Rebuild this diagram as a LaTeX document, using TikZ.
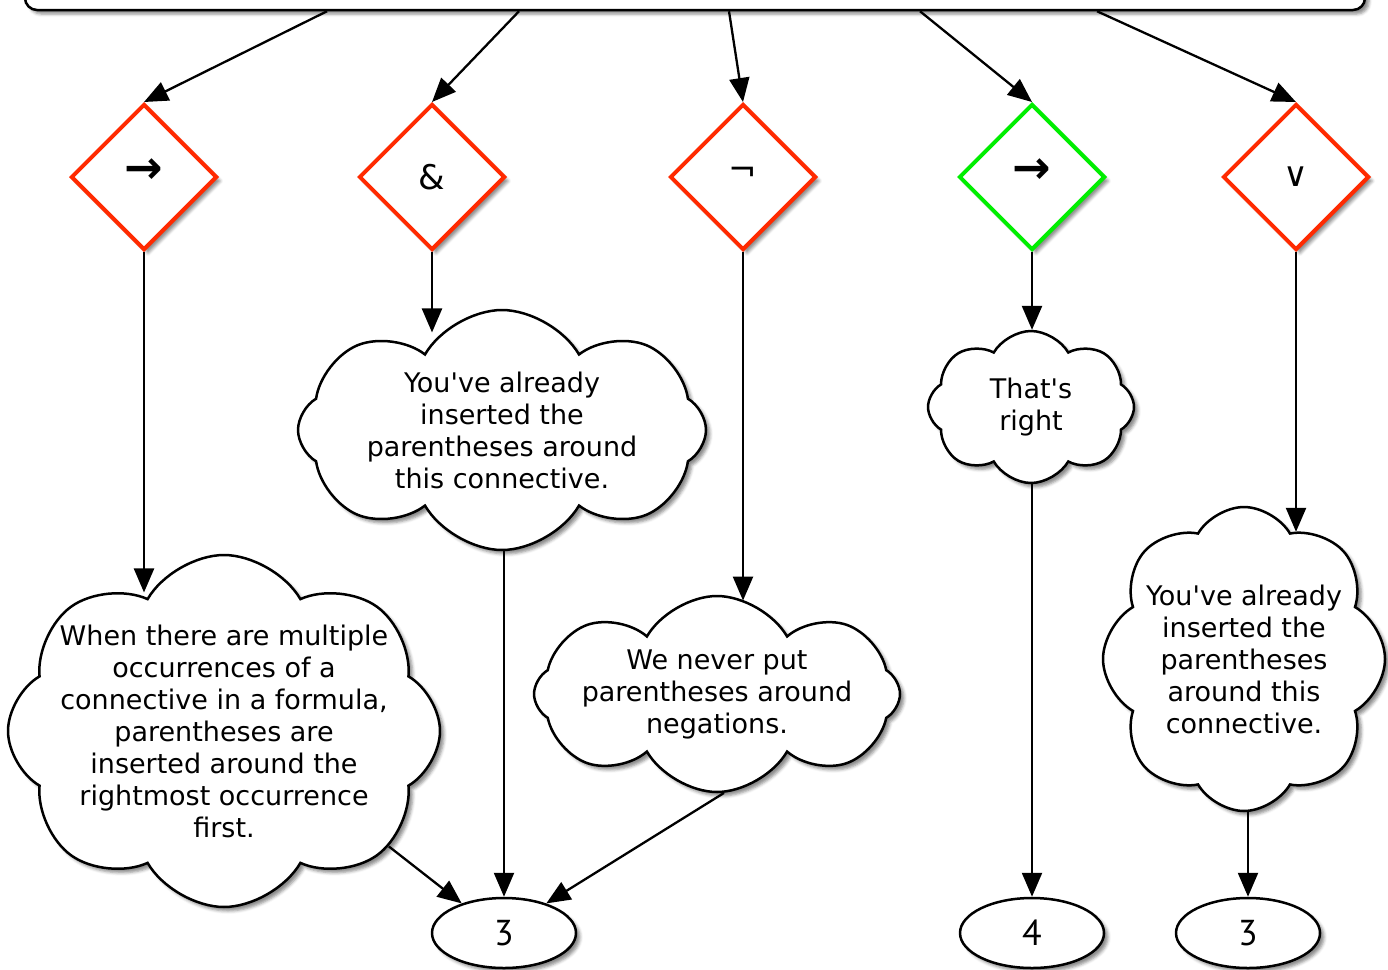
\documentclass[tikz,border=0pt]{standalone}
\usepackage{fontspec}
\setmainfont{DejaVu Sans}
\newfontfamily\numfont{PT Sans}
\usetikzlibrary{shapes.geometric,shapes.symbols,arrows.meta,shadows.blur}
\definecolor{dred}{RGB}{255,42,0}
\definecolor{dgreen}{RGB}{0,238,0}
\tikzset{
 shad/.style={blur shadow={shadow xshift=4pt,shadow yshift=-4pt,shadow opacity=45,shadow blur radius=3pt}},
 dia/.style={diamond, draw=dred, line width=4pt, fill=white, minimum width=146pt, minimum height=146pt, inner sep=0pt, shad, font=\fontsize{34}{34}\selectfont},
 okdia/.style={dia, draw=dgreen},
 arrsym/.style={font=\bfseries\fontsize{46}{46}\selectfont},
 thought/.style={cloud, draw, line width=2.5pt, fill=white, shad, cloud puffs=8, cloud puff arc=120, cloud ignores aspect, align=center, inner sep=-80pt, font=\fontsize{27}{32}\selectfont},
 goal/.style={ellipse, draw, line width=2.5pt, fill=white, shad, minimum width=144pt, minimum height=70pt, inner sep=0pt, font=\numfont\fontsize{36}{36}\selectfont},
 topbox/.style={rectangle, rounded corners=12pt, draw, line width=2.5pt, fill=white, shad, minimum width=1340pt, minimum height=80pt},
 arr/.style={-{Triangle[length=24pt,width=20pt]}, line width=2.3pt},
}
\begin{document}
\begin{tikzpicture}[x=1pt,y=-1pt]
\useasboundingbox (0,0) rectangle (1388,969);
\node[topbox] (top) at (695,-30) {};

\node[dia, arrsym] (d1) at (144,177) {\raisebox{12pt}{→}};
\node[dia] (d2) at (432,177) {\&};
\node[dia] (d3) at (743,177) {\raisebox{6pt}{¬}};
\node[okdia, arrsym] (d4) at (1032,177) {\raisebox{12pt}{→}};
\node[dia] (d5) at (1296,177) {∨};

\node[thought, minimum width=432pt, minimum height=352pt] (c1) at (224,731) {When there are multiple\\occurrences of a\\connective in a formula,\\parentheses are\\inserted around the\\rightmost occurrence\\first.};
\node[thought, minimum width=408pt, minimum height=240pt] (c2) at (502,430) {You\textquotesingle ve already\\inserted the\\parentheses around\\this connective.};
\node[thought, minimum width=366pt, minimum height=196pt] (c3) at (717,694) {We never put\\parentheses around\\negations.};
\node[thought, minimum width=206pt, minimum height=152pt] (c4) at (1031,407) {That\textquotesingle s\\right};
\node[thought, minimum width=282pt, minimum height=304pt] (c5) at (1244,659) {You\textquotesingle ve already\\inserted the\\parentheses\\around this\\connective.};

\node[goal] (e1) at (504,933) {3};
\node[goal] (e2) at (1032,933) {4};
\node[goal] (e3) at (1248,933) {3};

\draw[arr] ([xshift=-368pt]top.south) -- (d1.north);
\draw[arr] ([xshift=-176pt]top.south) -- (d2.north);
\draw[arr] ([xshift=34pt]top.south) -- (d3.north);
\draw[arr] ([xshift=225pt]top.south) -- (d4.north);
\draw[arr] ([xshift=402pt]top.south) -- (d5.north);

\draw[arr] (d1.south) -- (d1.south |- c1.118);
\draw[arr] (d2.south) -- (d2.south |- c2.122);
\draw[arr] (d3.south) -- (d3.south |- c3.72);
\draw[arr] (d4.south) -- (d4.south |- c4.88);
\draw[arr] (d5.south) -- (d5.south |- c5.69);

\draw[arr] (c1.-35) -- (e1.145);
\draw[arr] (e1.north |- c2.south) -- (e1.north);
\draw[arr] (c3.-86) -- (e1.35);
\draw[arr] (e2.north |- c4.south) -- (e2.north);
\draw[arr] (e3.north |- c5.south) -- (e3.north);
\end{tikzpicture}
\end{document}
